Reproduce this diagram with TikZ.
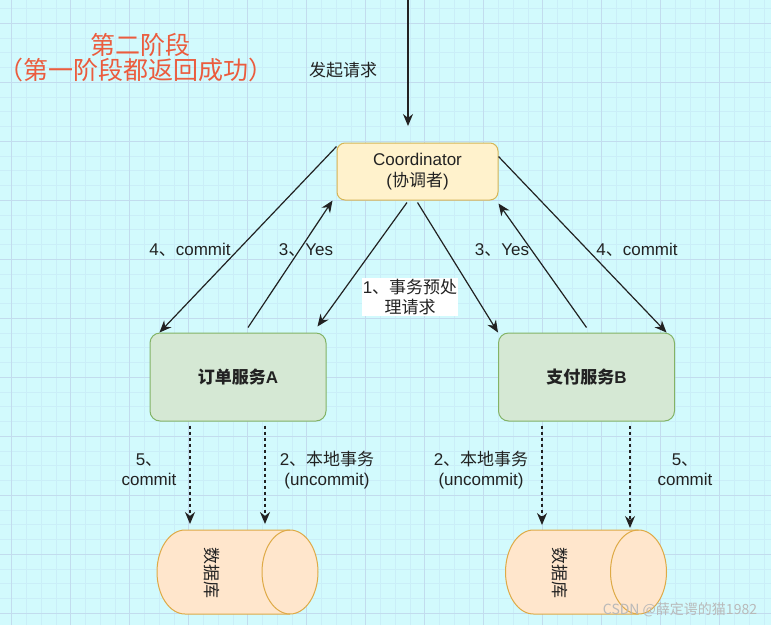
\documentclass[tikz,border=0pt]{standalone}
\usepackage{fontspec}
\setmainfont{Liberation Sans}
\newfontfamily\zh{Noto Sans CJK SC}
\usetikzlibrary{arrows.meta,positioning,calc}
\definecolor{gridbg}{RGB}{210,250,253}
\definecolor{gridminor}{RGB}{202,238,248}
\definecolor{gridmajor}{RGB}{194,220,238}
\definecolor{ink}{RGB}{34,34,34}
\definecolor{titlered}{RGB}{235,92,62}
\definecolor{coordfill}{RGB}{255,242,204}
\definecolor{coorddraw}{RGB}{214,182,86}
\definecolor{svcfill}{RGB}{213,232,212}
\definecolor{svcdraw}{RGB}{130,179,102}
\definecolor{dbfill}{RGB}{255,230,204}
\definecolor{dbdraw}{RGB}{222,170,70}

\begin{document}
\begin{tikzpicture}[x=1pt, y=-1pt,
  coordbox/.style={rectangle, draw=coorddraw, fill=coordfill, line width=1pt,
                   rounded corners=8pt, minimum width=161pt, minimum height=57pt,
                   align=center, font=\fontsize{17}{21}\selectfont, text=ink},
  svcbox/.style={rectangle, draw=svcdraw, fill=svcfill, line width=1pt,
                 rounded corners=10pt, minimum width=176pt, minimum height=88pt,
                 font=\fontsize{17}{20}\selectfont\bfseries, text=ink},
  dbslot/.style={rectangle, minimum width=161pt, minimum height=84pt,
                 inner sep=0pt, outer sep=0pt},
  dbbody/.style={draw=dbdraw, fill=dbfill, line width=1pt},
  dbtext/.style={rotate=-90, font=\zh\fontsize{17}{20}\selectfont, text=ink},
  flow/.style={-{Stealth[length=12pt,width=10pt]}, line width=1.2pt, draw=ink},
  local/.style={flow, dash pattern=on 3pt off 3pt},
  lbl/.style={font=\fontsize{17}{20}\selectfont, text=ink, align=center, inner sep=1pt},
  title/.style={font=\zh\fontsize{25}{25}\selectfont, text=titlered, inner sep=1pt}
]
\useasboundingbox (0,0) rectangle (771,625);

% grid paper
\fill[gridbg] (0,0) rectangle (771,625);
\foreach \x in {11.5,26.25,...,771} \draw[gridminor, line width=0.5pt] (\x,0) -- (\x,625);
\foreach \y in {8.25,23,...,625}    \draw[gridminor, line width=0.5pt] (0,\y) -- (771,\y);
\foreach \x in {11.5,70.5,...,771}  \draw[gridmajor, line width=0.8pt] (\x,0) -- (\x,625);
\foreach \y in {23,82,...,625}      \draw[gridmajor, line width=0.8pt] (0,\y) -- (771,\y);

\node[title] (stage)     at (140,45) {第二阶段};
\node[title] (stagenote) at (136,70) {（第一阶段都返回成功）};

\node[coordbox] (coord) at (417.5,171.5) {Coordinator\\({\zh 协调者})};
\node[svcbox]   (svcA)  at (238,377)     {{\zh 订单服务}A};
\node[svcbox]   (svcB)  at (586.5,377)   {{\zh 支付服务}B};
\node[dbslot]   (dbA)   at (237.5,572)   {};
\node[dbslot]   (dbB)   at (586,572)     {};

% cylinders lying on their side
\foreach \db in {dbA,dbB} {
  \path[dbbody] ($(\db.north west)+(28,0)$) -- ($(\db.north east)+(-28,0)$)
     arc[start angle=90, end angle=-90, x radius=28pt, y radius=42pt]
     -- ($(\db.south west)+(28,0)$)
     arc[start angle=270, end angle=90, x radius=28pt, y radius=42pt] -- cycle;
  \draw[dbbody, fill=none] ($(\db.north east)+(-28,0)$)
     arc[start angle=90, end angle=270, x radius=28pt, y radius=42pt];
}
\node[dbtext] (dbAtxt) at (212,573) {数据库};
\node[dbtext] (dbBtxt) at (560,573) {数据库};

% request
\coordinate (reqsrc) at (408,0);
\coordinate (reqtip) at (408,126);
\draw[flow] (reqsrc) -- (reqtip);
\node[lbl] (lblreq) at (343,70) {{\zh 发起请求}};

% phase two
\draw[flow] ([yshift=-4pt]coord.north west)            -- ([xshift=10pt]svcA.north west);
\draw[flow] ([xshift=10pt,yshift=5pt]svcA.north)       -- ([xshift=-4pt]coord.south west);
\draw[flow] ([xshift=-10.5pt,yshift=-2pt]coord.south)  -- ([xshift=-9pt,yshift=6pt]svcA.north east);
\draw[flow] ([yshift=-2pt]coord.south)                 -- (svcB.north west);
\draw[flow] ([yshift=5pt]svcB.north)                   -- ([yshift=-3pt]coord.south east);
\draw[flow] ([yshift=-14pt]coord.north east)           -- ([xshift=-8.5pt]svcB.north east);

\node[lbl] (lbl4A) at (190,250) {4{\zh 、}commit};
\node[lbl] (lbl3A) at (306,250) {3{\zh 、}Yes};
\node[lbl, fill=white] (lbl1) at (410,297) {1{\zh 、事务预处}\\{\zh 理请求}};
\node[lbl] (lbl3B) at (502,250) {3{\zh 、}Yes};
\node[lbl] (lbl4B) at (637,250) {4{\zh 、}commit};

% local transactions
\draw[local] ($(svcA.south)+(-48,4)$)   -- ($(dbA.north)+(-47.5,-6)$);
\draw[local] ($(svcA.south)+(27,4)$)    -- ($(dbA.north)+(27.5,-6)$);
\draw[local] ($(svcB.south)+(-44.5,4)$) -- ($(dbB.north)+(-44,-5)$);
\draw[local] ($(svcB.south)+(43.5,4)$)  -- ($(dbB.north)+(44,-2)$);

\node[lbl] (lbl5A) at (149,470) {5{\zh 、}\\commit};
\node[lbl] (lbl2A) at (327,470) {2{\zh 、本地事务}\\(uncommit)};
\node[lbl] (lbl2B) at (481,470) {2{\zh 、本地事务}\\(uncommit)};
\node[lbl] (lbl5B) at (685,470) {5{\zh 、}\\commit};

\node[font=\zh\fontsize{14}{14}\selectfont, text=gray!55] (wmark) at (680,610) {CSDN @薛定谔的猫1982};
\end{tikzpicture}
\end{document}
